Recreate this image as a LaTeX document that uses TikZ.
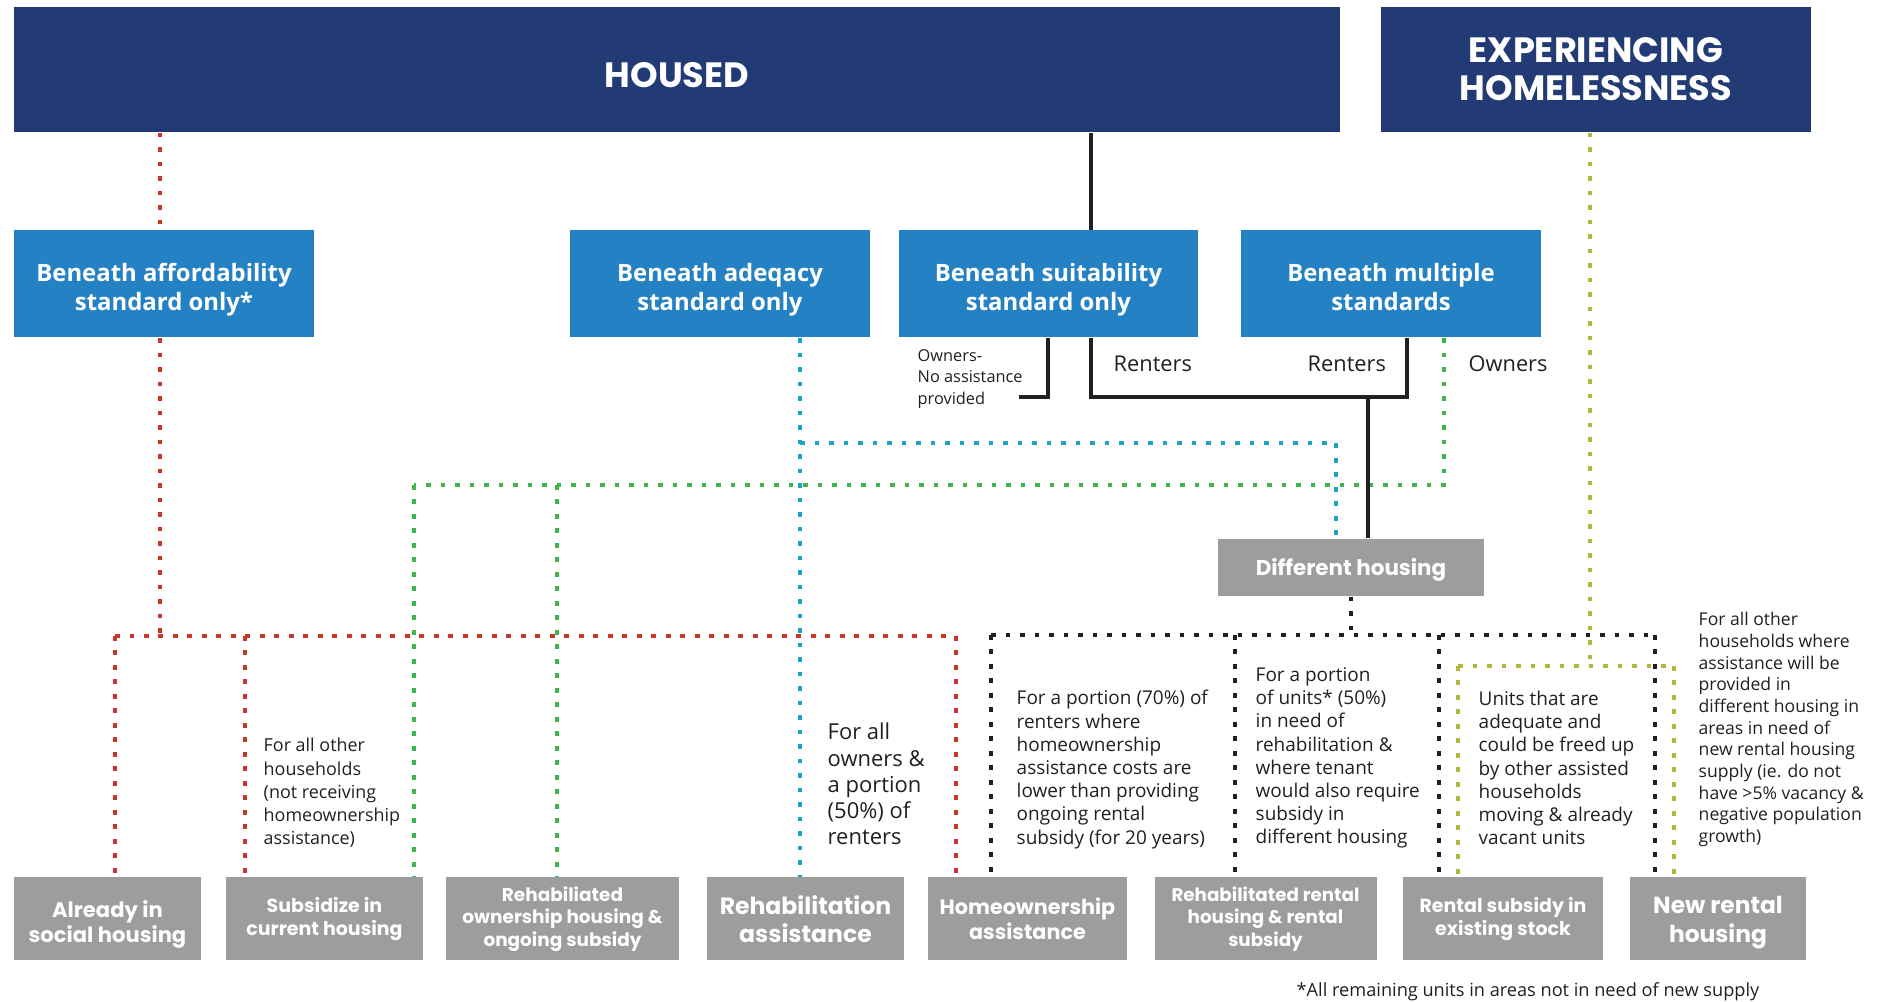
\documentclass[tikz,border=0pt]{standalone}
\usepackage{fontspec}
\setmainfont{Open Sans}
\newfontfamily\gothamfont{Poppins}
\usepackage{xcolor}
\definecolor{housed}{RGB}{34,59,116}
\definecolor{standard}{RGB}{36,130,196}
\definecolor{outcome}{RGB}{157,157,157}
\definecolor{affordable}{RGB}{200,53,43}
\definecolor{adequate}{RGB}{28,164,200}
\definecolor{multiple}{RGB}{62,181,74}
\definecolor{different}{RGB}{35,31,32}
\definecolor{homeless}{RGB}{180,184,58}
\definecolor{ink}{RGB}{35,31,32}
\newcommand{\bannerfont}{\gothamfont\bfseries\fontsize{10}{10.9}\selectfont}
\newcommand{\standardfont}{\bfseries\fontsize{6.8}{8.25}\selectfont}
\newcommand{\outcomefont}[2]{\gothamfont\bfseries\fontsize{#1}{#2}\selectfont}
\newcommand{\notefont}{\fontsize{5.4}{6.6}\selectfont}
\newcommand{\bignote}{\fontsize{6.25}{7.45}\selectfont}
\newcommand{\smallnote}{\fontsize{5.0}{6.17}\selectfont}
\newcommand{\tinynote}{\fontsize{4.65}{6}\selectfont}
\newcommand{\branchfont}{\fontsize{6.2}{7.4}\selectfont}
% invisible struts to sit the box texts a little lower
\newcommand{\lift}[1]{\rule{0pt}{#1}}
\newcommand{\sink}[1]{\rule[-#1]{0pt}{0pt}}
\tikzstyle{banner}=[fill=housed, text=white, align=center, inner sep=0pt, minimum height=1.25cm, font=\bannerfont]
\tikzstyle{standard}=[fill=standard, text=white, align=center, inner sep=0pt, minimum width=3cm, minimum height=1.07cm, font=\standardfont]
\tikzstyle{outcome}=[fill=outcome, text=white, align=center, inner sep=0pt, minimum height=0.83cm]
\tikzstyle{note}=[text=ink, align=left, inner sep=0pt, anchor=west, font=\notefont]
\tikzstyle{dotline}=[line width=0.47mm, dash pattern=on 0.47mm off 0.98mm]
\tikzstyle{affordable}=[dotline, draw=affordable]
\tikzstyle{adequate}=[dotline, draw=adequate]
\tikzstyle{multiple}=[dotline, draw=multiple]
\tikzstyle{different}=[dotline, draw=different]
\tikzstyle{homeless}=[dotline, draw=homeless]
\tikzstyle{suitable}=[draw=ink, line width=0.35mm]

\begin{document}
\begin{tikzpicture}
  \useasboundingbox (0,0) rectangle (18.81,10.02);

  %% Top row
  \draw (6.77,9.325) node[banner,minimum width=13.26cm] (housed) {\lift{10.5pt}HOUSED};
  \draw (15.96,9.325) node[banner,minimum width=4.30cm] (homeless) {EXPERIENCING\\HOMELESSNESS};

  \draw (1.64,7.18) node[standard] (A) {\lift{8.6pt}Beneath affordability\\standard only*};
  \draw (7.20,7.18) node[standard] (B) {\lift{8.6pt}Beneath adeqacy\\standard only};
  \draw (10.485,7.18) node[standard,minimum width=2.99cm] (C) {\lift{8.6pt}Beneath suitability\\standard only};
  \draw (13.91,7.18) node[standard] (D) {\lift{8.6pt}Beneath multiple\\standards\sink{1.6pt}};

  \draw (13.51,4.345) node[outcome,minimum width=2.66cm,minimum height=0.57cm,font={\outcomefont{6.1}{7}}] (diff) {\lift{6.5pt}Different housing};

  %% Bottom row
  \draw (1.075,0.83) node[outcome,minimum width=1.87cm,font={\outcomefont{6.0}{7.1}}] (social) {\lift{7.8pt}Already in\\social housing};
  \draw (3.245,0.83) node[outcome,minimum width=1.97cm,font={\outcomefont{5.4}{6.4}}] (subsidize) {Subsidize in\\current housing};
  \draw (5.625,0.83) node[outcome,minimum width=2.33cm,font={\outcomefont{5.25}{6.4}}] (rehabown) {Rehabiliated\\ownership housing \&\\ongoing subsidy};
  \draw (8.055,0.83) node[outcome,minimum width=1.97cm,font={\outcomefont{6.7}{8.1}}] (rehab) {Rehabilitation\\assistance};
  \draw (10.275,0.83) node[outcome,minimum width=1.99cm,font={\outcomefont{5.9}{7.1}}] (homeown) {Homeownership\\assistance};
  \draw (12.655,0.83) node[outcome,minimum width=2.22cm,font={\outcomefont{5.2}{6.4}}] (rehabrent) {Rehabilitated rental\\housing \& rental\\subsidy};
  \draw (15.03,0.83) node[outcome,minimum width=2.00cm,font={\outcomefont{5.4}{6.5}}] (rentsub) {Rental subsidy in\\existing stock};
  \draw (17.18,0.83) node[outcome,minimum width=1.76cm,font={\outcomefont{6.65}{8.1}}] (newrental) {\lift{6.9pt}New rental\\housing};

  %% Junctions
  \coordinate (redA) at (1.60,3.66);
  \coordinate (redL) at (1.15,3.66);
  \coordinate (redM) at (2.45,3.66);
  \coordinate (redR) at (9.56,3.66);
  \coordinate (greenL) at (4.14,5.17);
  \coordinate (greenM) at (5.57,5.17);
  \coordinate (greenR) at (14.44,5.17);
  \coordinate (cyanL) at (8.00,5.59);
  \coordinate (cyanR) at (13.36,5.59);
  \coordinate (ownerEnd) at (10.19,6.05);
  \coordinate (ownerC) at (10.48,6.05);
  \coordinate (renterC) at (10.91,6.05);
  \coordinate (renterJoin) at (13.68,6.05);
  \coordinate (renterD) at (14.07,6.05);
  \coordinate (diffL) at (9.91,3.67);
  \coordinate (diffM) at (12.35,3.67);
  \coordinate (diffN) at (14.39,3.67);
  \coordinate (diffR) at (16.55,3.67);
  \coordinate (homeL) at (14.58,3.36);
  \coordinate (homeM) at (15.90,3.36);
  \coordinate (homeR) at (16.74,3.36);

  %% Affordability
  \draw[affordable] (housed.south -| redA) -- (A.north -| redA);
  \draw[affordable] (A.south -| redA) -- (redA);
  \draw[affordable] (redL) -- (redR);
  \draw[affordable] (redL) -- (redL |- social.north);
  \draw[affordable] (redM) -- (redM |- subsidize.north);
  \draw[affordable] (redR) -- (redR |- homeown.north);

  %% Multiple standards, owners
  \draw[multiple] (D.south -| greenR) -- (greenR) -- (greenL);
  \draw[multiple] (greenL) -- (greenL |- subsidize.north);
  \draw[multiple] (greenM) -- (greenM |- rehabown.north);

  %% Adequacy
  \draw[adequate] (B.south -| cyanL) -- (cyanL |- rehab.north);
  \draw[adequate] (cyanL) -- (cyanR) -- (cyanR |- diff.north);

  %% Suitability
  \draw[suitable] (housed.south -| renterC) -- (C.north -| renterC);
  \draw[suitable] (C.south -| ownerC) -- (ownerC) -- (ownerEnd);
  \draw[suitable] (C.south -| renterC) -- (renterC) -- (renterD) -- (D.south -| renterD);
  \draw[suitable] (renterJoin) -- (renterJoin |- diff.north);

  %% Different housing
  \draw[different] (diff.south) -- (diff.south |- diffL);
  \draw[different] (diffL) -- (diffR);
  \draw[different] (diffL) -- (diffL |- homeown.north);
  \draw[different] (diffM) -- (diffM |- rehabrent.north);
  \draw[different] (diffN) -- (diffN |- rentsub.north);
  \draw[different] (diffR) -- (diffR |- newrental.north);

  %% Homelessness
  \draw[homeless] (homeless.south -| homeM) -- (homeM);
  \draw[homeless] (homeL) -- (homeR);
  \draw[homeless] (homeL) -- (homeL |- rentsub.north);
  \draw[homeless] (homeR) -- (homeR |- newrental.north);

  %% Branch labels
  \draw (9.17,6.23) node[note,font=\tinynote] (ownersnone) {Owners-\\No assistance\\provided};
  \draw (11.13,6.38) node[note,font=\branchfont] (rentersC) {Renters};
  \draw (13.07,6.38) node[note,font=\branchfont] (rentersD) {Renters};
  \draw (14.68,6.38) node[note,font=\branchfont] (ownersD) {Owners};

  %% Notes above the outcomes
  \draw (2.63,2.09) node[note,font=\fontsize{5.1}{6.63}\selectfont] (othernote) {For all other\\households\\(not receiving\\homeownership\\assistance)};
  \draw (8.27,2.18) node[note,font=\bignote] (rehabnote) {For all\\owners \&\\a portion\\(50\%) of\\renters};
  \draw (10.16,2.325) node[note] (homeownnote) {For a portion (70\%) of\\renters where\\homeownership\\assistance costs are\\lower than providing\\ongoing rental\\subsidy (for 20 years)};
  \draw (12.55,2.44) node[note] (rentalnote) {For a portion\\of units* (50\%)\\in need of\\rehabilitation \&\\where tenant\\would also require\\subsidy in\\different housing};
  \draw (14.78,2.34) node[note] (stocknote) {Units that are\\adequate and\\could be freed up\\by other assisted\\households\\moving \& already\\vacant units};
  \draw (16.98,2.725) node[note,font=\smallnote] (supplynote) {For all other\\households where\\assistance will be\\provided in\\different housing in\\areas in need of\\new rental housing\\supply (ie. do not\\have >5\% vacancy \&\\negative population\\growth)};

  %% Footnote
  \draw (12.96,0.10) node[note,font=\fontsize{5.17}{6.3}\selectfont] (footnote) {*All remaining units in areas not in need of new supply};
\end{tikzpicture}
\end{document}
